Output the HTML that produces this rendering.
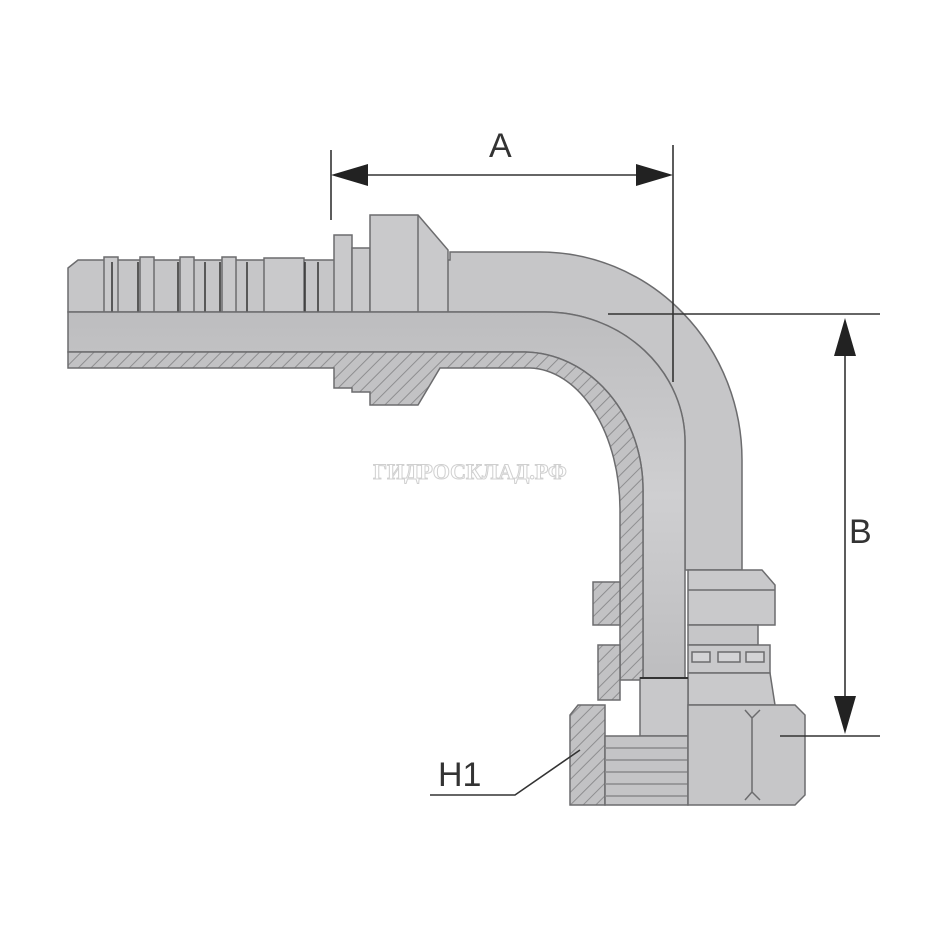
<!DOCTYPE html>
<html><head><meta charset="utf-8"><style>
html,body{margin:0;padding:0;background:#fff}
svg{display:block}
</style></head><body>
<svg width="942" height="942" viewBox="0 0 942 942" xmlns="http://www.w3.org/2000/svg">
<defs>
<pattern id="h" width="9" height="9" patternUnits="userSpaceOnUse" patternTransform="rotate(45)">
<rect width="9" height="9" fill="#c2c2c4"/><line x1="0" y1="0" x2="0" y2="9" stroke="#8e8e90" stroke-width="2"/>
</pattern>
<linearGradient id="g" x1="0" y1="0" x2="0" y2="1"><stop offset="0" stop-color="#bdbdbf"/><stop offset="0.5" stop-color="#cfcfd1"/><stop offset="1" stop-color="#bdbdbf"/></linearGradient>
</defs>
<g stroke="#6c6c6e" stroke-width="1.5">
<!-- upper outer view of horizontal stem -->
<path d="M68,268 L78,260 L450,260 L450,252 L540,252 A202,208 0 0 1 742,460 L742,570 L685,570 L685,443 A140,130 0 0 0 545,312 L68,312 Z" fill="#c6c6c8"/>
<!-- barbs -->
<g fill="#c9c9cb">
<rect x="104" y="257" width="14" height="55"/><rect x="140" y="257" width="14" height="55"/>
<rect x="180" y="257" width="14" height="55"/><rect x="222" y="257" width="14" height="55"/>
<rect x="264" y="258" width="40" height="54"/>
<rect x="334" y="235" width="18" height="77"/><rect x="352" y="248" width="18" height="64"/>
<path d="M370,215 L418,215 L448,250 L448,312 L370,312 Z"/>
</g>
<line x1="112" y1="262" x2="112" y2="312" stroke="#333"/><line x1="138" y1="262" x2="138" y2="312" stroke="#333"/>
<line x1="178" y1="262" x2="178" y2="312" stroke="#333"/><line x1="205" y1="262" x2="205" y2="312" stroke="#333"/>
<line x1="220" y1="262" x2="220" y2="312" stroke="#333"/><line x1="247" y1="262" x2="247" y2="312" stroke="#333"/>
<line x1="305" y1="262" x2="305" y2="312" stroke="#333"/><line x1="318" y1="262" x2="318" y2="312" stroke="#333"/>
<line x1="418" y1="215" x2="418" y2="312"/>
<!-- bore -->
<path d="M68,312 L545,312 A140,130 0 0 1 685,443 L685,680 L643,680 L643,490 A120,138 0 0 0 525,352 L68,352 Z" fill="url(#g)"/>
<!-- hatched wall -->
<path d="M68,352 L525,352 A120,138 0 0 1 643,490 L643,680 L620,680 L620,510 A92,142 0 0 0 530,368 L440,368 L418,405 L370,405 L370,392 L352,392 L352,388 L334,388 L334,368 L68,368 Z" fill="url(#h)"/>
<!-- left collars (section) -->
<path d="M593,582 L620,582 L620,625 L593,625 Z" fill="url(#h)"/>
<path d="M598,645 L620,645 L620,700 L598,700 Z" fill="url(#h)"/>
<!-- right collar outer view -->
<path d="M688,570 L762,570 L775,585 L775,625 L688,625 Z" fill="#c9c9cb"/>
<line x1="688" y1="590" x2="775" y2="590"/>
<rect x="688" y="625" width="70" height="20" fill="#c6c6c8"/>
<rect x="688" y="645" width="82" height="28" fill="#c9c9cb"/>
<g fill="#d4d4d6"><rect x="692" y="652" width="18" height="10"/><rect x="718" y="652" width="22" height="10"/><rect x="746" y="652" width="18" height="10"/></g>
<path d="M688,673 L770,673 L775,705 L688,705 Z" fill="#c9c9cb"/>
<!-- insert -->
<rect x="640" y="678" width="48" height="58" fill="#c8c8ca"/>
<line x1="640" y1="678" x2="688" y2="678" stroke="#333" stroke-width="2"/>
<!-- nut -->
<path d="M578,705 L605,705 L605,805 L570,805 L570,715 Z" fill="url(#h)"/>
<rect x="605" y="736" width="83" height="69" fill="#c4c4c6"/>
<g stroke="#8a8a8c"><line x1="605" y1="748" x2="688" y2="748"/><line x1="605" y1="760" x2="688" y2="760"/><line x1="605" y1="772" x2="688" y2="772"/><line x1="605" y1="784" x2="688" y2="784"/><line x1="605" y1="796" x2="688" y2="796"/></g>
<path d="M688,705 L795,705 L805,715 L805,795 L795,805 L688,805 Z" fill="#c6c6c8"/>
<path d="M745,710 L752,718 L752,792 L745,800 M760,710 L752,718 M760,800 L752,792" fill="none"/>
</g>
<!-- dimension lines -->
<g stroke="#333" stroke-width="1.6" fill="#222">
<line x1="331" y1="150" x2="331" y2="220"/>
<line x1="673" y1="145" x2="673" y2="382"/>
<line x1="340" y1="175" x2="664" y2="175"/>
<path d="M331,175 L368,164 L368,186 Z" stroke="none"/>
<path d="M673,175 L636,164 L636,186 Z" stroke="none"/>
<line x1="608" y1="314" x2="880" y2="314"/>
<line x1="780" y1="736" x2="880" y2="736"/>
<line x1="845" y1="330" x2="845" y2="722"/>
<path d="M845,318 L834,356 L856,356 Z" stroke="none"/>
<path d="M845,734 L834,696 L856,696 Z" stroke="none"/>
<path d="M430,795 L515,795 L580,750" fill="none"/>
</g>
<g font-family="Liberation Sans, sans-serif" font-size="34" fill="#333">
<text x="489" y="157">A</text>
<text x="849" y="543">B</text>
<text x="438" y="786">H1</text>
</g>
<text x="470" y="479" text-anchor="middle" font-family="Liberation Serif, serif" font-weight="bold" font-size="22" fill="#fff" stroke="#d0d0d0" stroke-width="1">ГИДРОСКЛАД.РФ</text>
</svg>
</body></html>
